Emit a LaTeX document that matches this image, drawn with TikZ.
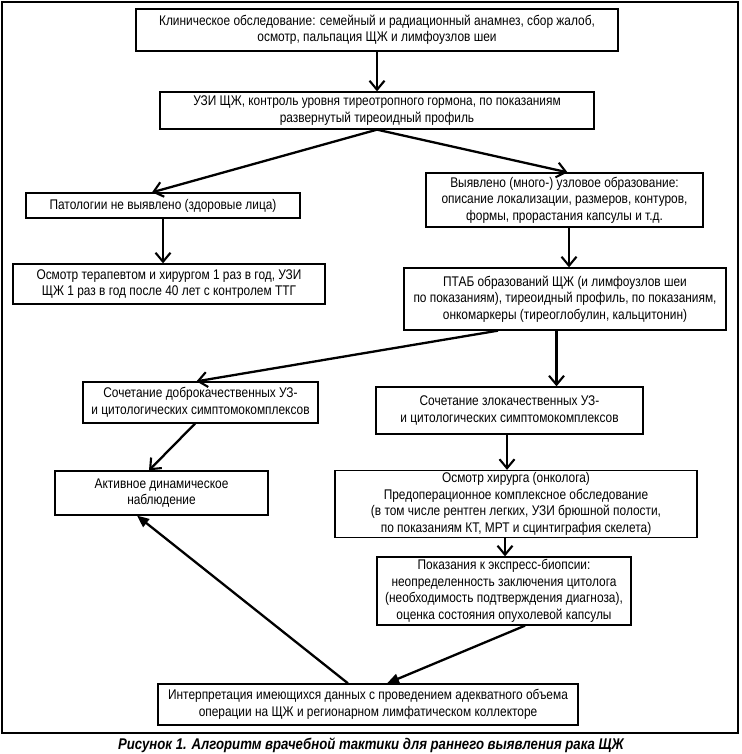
\documentclass[tikz,border=0pt]{standalone}
\usepackage{fontspec}
\setmainfont{Liberation Sans}[FakeStretch=0.85]
\usetikzlibrary{arrows.meta}
\begin{document}
\begin{tikzpicture}[x=1pt,y=-1pt,
  box/.style={draw, line width=1.3pt, inner sep=0pt, align=center, font=\fontsize{14}{16.5}\selectfont},
  arr/.style={line width=2.3pt, -{Straight Barb[length=9pt,width=15pt,line width=2.1pt]}},
  arrf/.style={line width=2.3pt, -{Triangle[length=12pt,width=10pt]}}]
\useasboundingbox (0,0) rectangle (741,754);
\draw[line width=1.8pt] (2,2) rectangle (738,733);

\node[box, minimum width=482, minimum height=42] (klin) at (377,30)
 {Клиническое обследование: семейный и радиационный анамнез, сбор жалоб,\\ осмотр, пальпация ЩЖ и лимфоузлов шеи};
\node[box, minimum width=434, minimum height=37] (uzi) at (377,110.5)
 {УЗИ ЩЖ, контроль уровня тиреотропного гормона, по показаниям\\ развернутый тиреоидный профиль};
\node[box, minimum width=274, minimum height=25] (pat) at (163,205.5)
 {Патологии не выявлено (здоровые лица)};
\node[box, minimum width=277, minimum height=54] (vyy) at (564.5,200)
 {Выявлено (много-) узловое образование:\\ описание локализации, размеров, контуров,\\ формы, прорастания капсулы и т.д.};
\node[box, minimum width=312, minimum height=40] (osm) at (169,284)
 {Осмотр терапевтом и хирургом 1 раз в год, УЗИ\\ ЩЖ 1 раз в год после 40 лет с контролем ТТГ};
\node[box, minimum width=322, minimum height=62] (ptab) at (565,299)
 {ПТАБ образований ЩЖ (и лимфоузлов шеи\\ по показаниям), тиреоидный профиль, по показаниям,\\ онкомаркеры (тиреоглобулин, кальцитонин)};
\node[box, minimum width=235, minimum height=41] (dobro) at (200.5,402.5)
 {Сочетание доброкачественных УЗ-\\ и цитологических симптомокомплексов};
\node[box, minimum width=267, minimum height=47] (zloka) at (509.5,410.5)
 {Сочетание злокачественных УЗ-\\ и цитологических симптомокомплексов};
\node[box, minimum width=213, minimum height=44] (active) at (161.5,493)
 {Активное динамическое\\ наблюдение};
\node[box, minimum width=362, minimum height=67] (hir) at (516,504)
 {Осмотр хирурга (онколога)\\ Предоперационное комплексное обследование\\ (в том числе рентген легких, УЗИ брюшной полости,\\ по показаниям КТ, МРТ и сцинтиграфия скелета)};
\node[box, minimum width=254, minimum height=68] (pokaz) at (504,591)
 {Показания к экспресс-биопсии:\\ неопределенность заключения цитолога\\ (необходимость подтверждения диагноза),\\ оценка состояния опухолевой капсулы};
\node[box, minimum width=420, minimum height=41] (interp) at (368,704.5)
 {Интерпретация имеющихся данных с проведением адекватного объема\\ операции на ЩЖ и регионарном лимфатическом коллекторе};

\node[font=\fontsize{15.5}{17}\selectfont\bfseries\itshape] (cap) at (371,745)
 {Рисунок 1. Алгоритм врачебной тактики для раннего выявления рака ЩЖ};

\draw[arr] (uzi.north |- klin.south) -- (uzi.north);
\draw[arr] (uzi.south) -- ([xshift=-11pt]pat.north);
\draw[arr] (uzi.south) -- ([xshift=3pt]vyy.north);
\draw[arr] (pat.south) -- (pat.south |- osm.north);
\draw[arr] ([xshift=4.5pt]vyy.south) -- ([xshift=4.5pt]vyy.south |- ptab.north);
\draw[arr] ([xshift=-67pt]ptab.south) -- ([xshift=-4pt]dobro.north);
\draw[arr] ([xshift=-8.5pt]ptab.south) -- ([xshift=-8.5pt]ptab.south |- zloka.north);
\draw[arr] ([xshift=-5.5pt]dobro.south) -- ([xshift=-12.5pt]active.north);
\draw[arr] ([xshift=-2.5pt]zloka.south) -- ([xshift=-2.5pt]zloka.south |- hir.north);
\draw[arr] ([xshift=-11pt]hir.south) -- ([xshift=-11pt]hir.south |- pokaz.north);
\draw[arrf] ([xshift=21pt]pokaz.south) -- ([xshift=19pt]interp.north);
\draw[arrf] ([xshift=-20pt]interp.north) -- ([xshift=-24.5pt]active.south);
\end{tikzpicture}
\end{document}
